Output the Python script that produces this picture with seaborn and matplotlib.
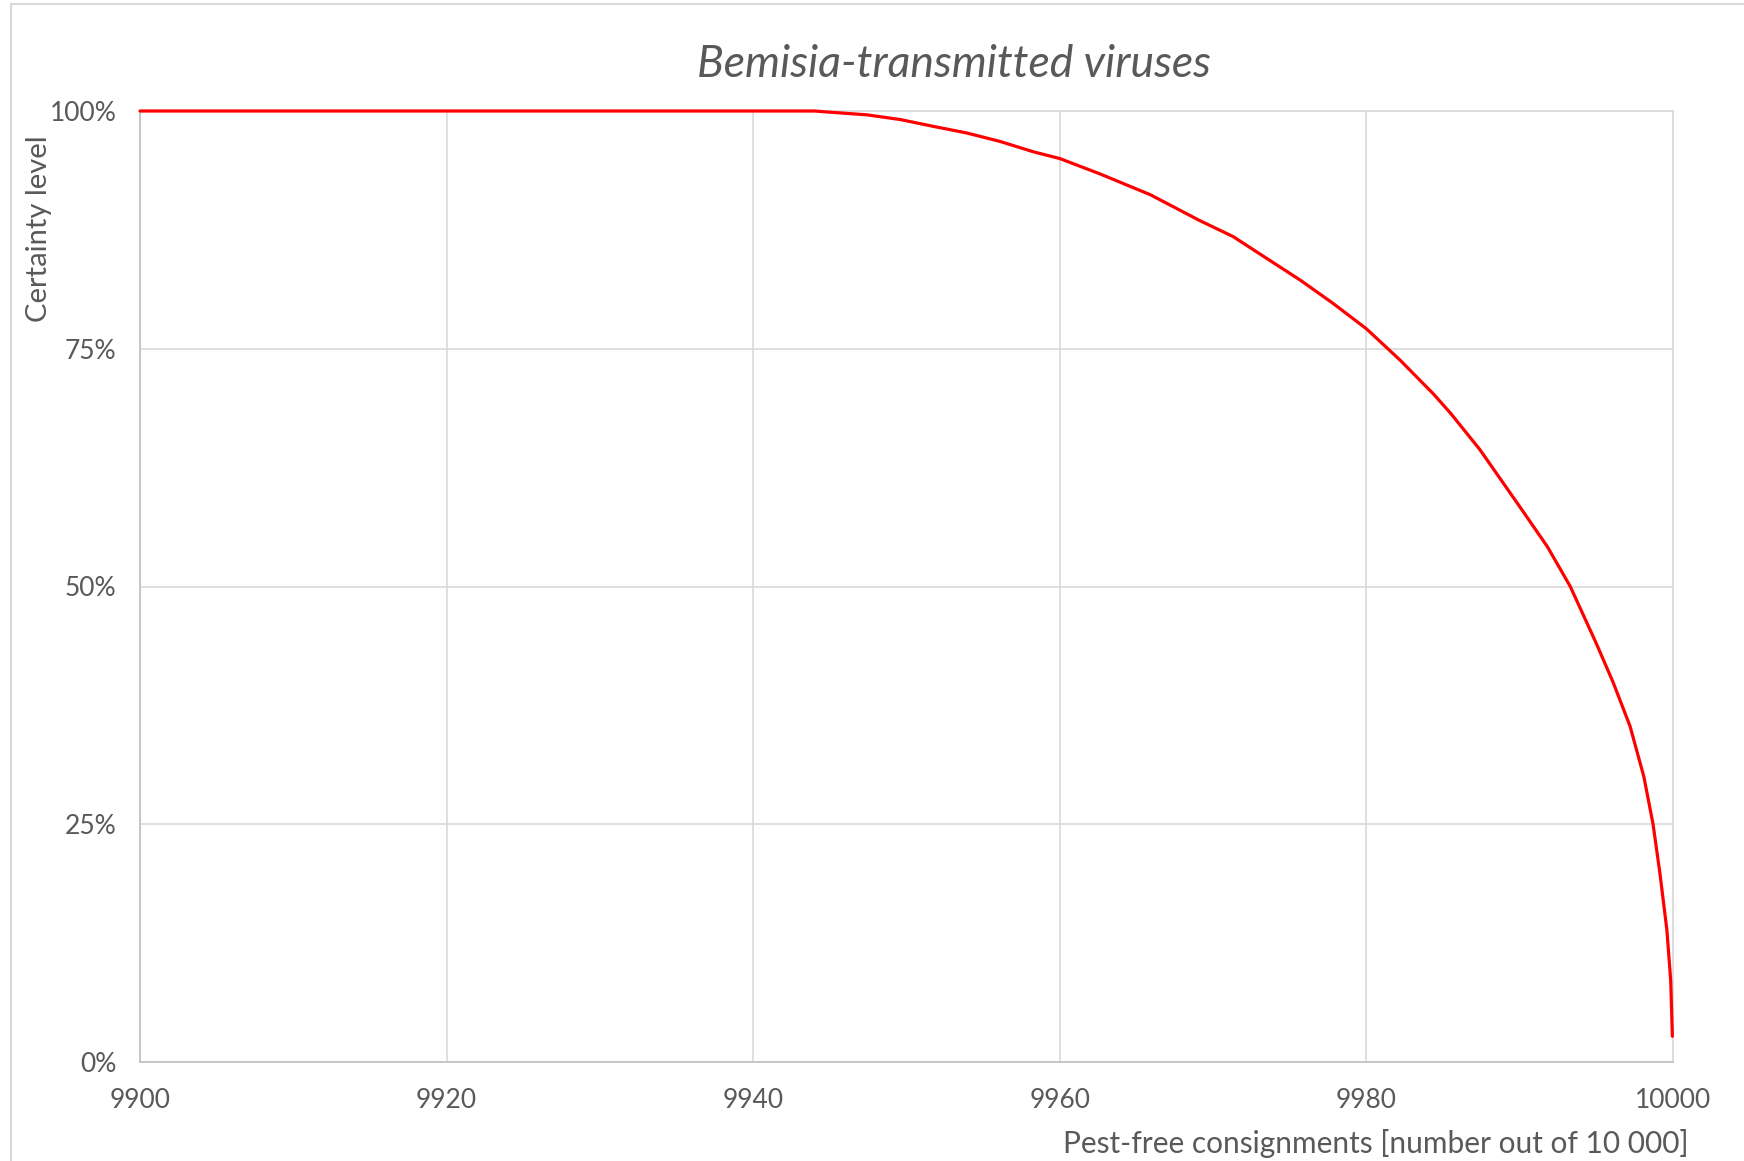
import matplotlib.pyplot as plt
import matplotlib.lines as mlines
import matplotlib.ticker as mticker
import pandas as pd
import seaborn as sns

# ==============================================================================
# 1. Data
# ==============================================================================
consignments = [9900, 9920, 9940, 9944.0, 9944.8, 9947.4, 9949.6, 9951.7,
                9953.9, 9956.1, 9958.3, 9960.0, 9962.6, 9965.9, 9969.1,
                9971.3, 9973.5, 9975.7, 9977.8, 9980.0, 9982.2, 9984.4,
                9985.5, 9987.4, 9990.0, 9991.8, 9993.3, 9995.0, 9996.1,
                9997.2, 9998.1, 9998.7, 9999.15, 9999.6, 9999.85, 9999.96]
certainty = [100, 100, 100, 100, 99.9, 99.6, 99.1, 98.4,
             97.7, 96.8, 95.7, 95.0, 93.4, 91.2, 88.5,
             86.8, 84.5, 82.2, 79.8, 77.1, 73.8, 70.2,
             68.2, 64.4, 58.4, 54.2, 50.0, 44.0, 39.9,
             35.3, 30.0, 25.0, 19.8, 13.9, 8.6, 2.7]

x_ticks = [9900, 9920, 9940, 9960, 9980, 10000]
y_ticks = [0, 25, 50, 75, 100]

df = pd.DataFrame({"consignments": consignments, "certainty": certainty})

# ==============================================================================
# 2. Canvas
# ==============================================================================
sns.set_theme(style="white")
plt.rcParams["font.family"] = ["Lato", "DejaVu Sans"]

text_grey = "#595959"
grid_grey = "#d9d9d9"

W, H = 1744, 1161
fig = plt.figure(figsize=(W / 100, H / 100), dpi=100)
ax = fig.add_axes([140 / W, 1 - 1062 / H, (1673 - 140) / W, (1062 - 111) / H])

sns.lineplot(data=df, x="consignments", y="certainty", color="#ff0000",
             linewidth=2.3, ax=ax, sort=False, clip_on=False, zorder=5)

ax.set_xlim(9900, 10000)
ax.set_ylim(0, 100)
ax.set_xticks(x_ticks)
ax.set_yticks(y_ticks)
ax.yaxis.set_major_formatter(mticker.FuncFormatter(lambda v, _: f"{v:.0f}%"))
ax.grid(True, color=grid_grey, linewidth=1.2)
ax.set_axisbelow(True)
for side, spine in ax.spines.items():
    spine.set_color(grid_grey if side in ("top", "right") else "#bfbfbf")
    spine.set_linewidth(1.2)

ax.tick_params(axis="x", length=0, pad=19, labelsize=19, labelcolor=text_grey)
ax.tick_params(axis="y", length=0, pad=17, labelsize=19, labelcolor=text_grey)

# ==============================================================================
# 3. Typography
# ==============================================================================
ax.set_xlabel("Pest-free consignments [number out of 10 000]", fontsize=21.5,
              color=text_grey, ha="center", va="center")
ax.xaxis.set_label_coords(0.806, -0.086)
ax.set_ylabel("Certainty level", fontsize=21, color=text_grey,
              ha="center", va="center")
ax.yaxis.set_label_coords(-0.066, 0.876)

ax.text(0.531, 1.049, "Bemisia-transmitted viruses", transform=ax.transAxes,
        ha="center", va="center", fontsize=32, style="italic", color=text_grey)

# chart frame (left and top edges visible in the crop)
fig.add_artist(mlines.Line2D([11 / W, 11 / W], [0, 1 - 4 / H],
                             color=grid_grey, linewidth=1.5))
fig.add_artist(mlines.Line2D([11 / W, 1], [1 - 4 / H, 1 - 4 / H],
                             color=grid_grey, linewidth=1.5))

fig.savefig("out.png", dpi=100)
